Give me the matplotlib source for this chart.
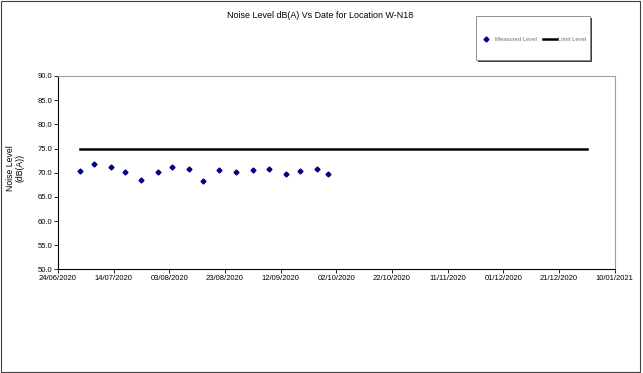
import matplotlib
matplotlib.use("Agg")
import matplotlib.pyplot as plt
import matplotlib.dates as mdates
import pandas as pd
from matplotlib.patches import Rectangle

# dati
measure_dates = ["2020-07-02", "2020-07-07", "2020-07-13", "2020-07-18", "2020-07-24",
                 "2020-07-30", "2020-08-04", "2020-08-10", "2020-08-15", "2020-08-21",
                 "2020-08-27", "2020-09-02", "2020-09-08", "2020-09-14", "2020-09-19",
                 "2020-09-25", "2020-09-29"]
measured_level = [70.3, 71.9, 71.2, 70.1, 68.5, 70.2, 71.2, 70.8, 68.3, 70.6,
                  70.2, 70.5, 70.7, 69.8, 70.3, 70.7, 69.8]
limit_dates = ["2020-07-02", "2020-12-31"]
limit_level = [75.0, 75.0]
x_start = "2020-06-24"
x_end = "2021-01-10"

plt.rcParams['font.family'] = ['Liberation Sans', 'DejaVu Sans']

fig = plt.figure(figsize=(6.43, 3.73), dpi=100)
ax = fig.add_axes([0.0902, 0.2775, 0.8655, 0.5188])

ax.plot(pd.to_datetime(measure_dates), measured_level, linestyle='none', marker='D',
        markersize=2.5, color='#000080', label='Measured Level')
ax.plot(pd.to_datetime(limit_dates), limit_level, color='black', linewidth=1.8,
        label='Limit Level')

ax.set_xlim(pd.Timestamp(x_start), pd.Timestamp(x_end))
ax.set_ylim(50, 90)
ax.set_yticks(range(50, 91, 5))
ax.yaxis.set_major_formatter(plt.FormatStrFormatter('%.1f'))
ax.set_xticks(pd.date_range(x_start, periods=11, freq='20D'))
ax.xaxis.set_major_formatter(mdates.DateFormatter('%d/%m/%Y'))
ax.tick_params(axis='both', labelsize=5.5, length=3, width=0.6, pad=1)
for s in ['left', 'bottom']:
    ax.spines[s].set_linewidth(0.8)
for s in ['top', 'right']:
    ax.spines[s].set_color('#a0a0a0')
    ax.spines[s].set_linewidth(0.8)

# etichetta asse y
fig.text(15.5 / 643, 1 - 168 / 373, "Noise Level\n(dB(A))", rotation=90, ha='center',
         va='center', fontsize=6.2, linespacing=1.0)

fig.text(0.498, 0.958, "Noise Level dB(A) Vs Date for Location W-N18", ha='center',
         va='center', fontsize=6.4)

# riquadro legenda con ombra
fig.patches.append(Rectangle((478 / 643, 1 - 62 / 373), 114 / 643, 44 / 373,
                             transform=fig.transFigure, facecolor='#404040',
                             edgecolor='none', zorder=1))
fig.patches.append(Rectangle((476 / 643, 1 - 60 / 373), 114 / 643, 44 / 373,
                             transform=fig.transFigure, facecolor='white',
                             edgecolor='#808080', linewidth=0.6, zorder=2))
leg = fig.legend(loc='center', bbox_to_anchor=(533 / 643, 1 - 39 / 373), ncol=2,
                 fontsize=4.2, frameon=False, handlelength=2.4, columnspacing=1.0,
                 handletextpad=0.3, labelcolor='#707070')
leg.set_zorder(3)

# bordo della figura
fig.patches.append(Rectangle((0.002, 0.004), 0.994, 0.993, transform=fig.transFigure,
                             facecolor='none', edgecolor='#404040', linewidth=0.8))

fig.savefig("out.png", dpi=100)
